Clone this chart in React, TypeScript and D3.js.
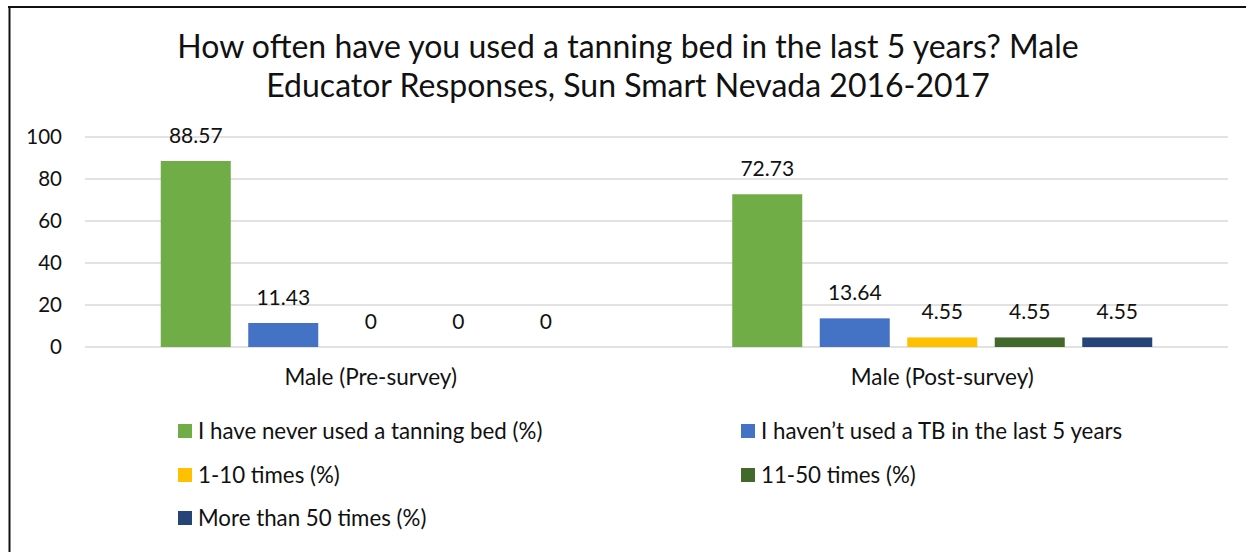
import React from "react";
import * as d3 from "d3";

const titleLines = [
  "How often have you used a tanning bed in the last 5 years? Male",
  "Educator Responses, Sun Smart Nevada 2016-2017",
];
const categories = ["Male (Pre-survey)", "Male (Post-survey)"];
const seriesNames = [
  "I have never used a tanning bed (%)",
  "I haven\u2019t used a TB in the last 5 years",
  "1-10 times (%)",
  "11-50 times (%)",
  "More than 50 times (%)",
];
const seriesColors = ["#70AD47", "#4472C4", "#FFC000", "#43682B", "#264478"];
const preValues = [88.57, 11.43, 0, 0, 0];
const postValues = [72.73, 13.64, 4.55, 4.55, 4.55];
const valueLabels = [
  ["88.57", "11.43", "0", "0", "0"],
  ["72.73", "13.64", "4.55", "4.55", "4.55"],
];
const yTicks = [0, 20, 40, 60, 80, 100];

const W = 1246;
const H = 552;
const FONT = "Lato, 'Open Sans', sans-serif";

export default function App() {
  const plotLeft = 85;
  const plotRight = 1228;
  const y = d3.scaleLinear().domain([0, 100]).range([347, 137]);
  const x0 = d3.scaleBand<string>().domain(categories).range([plotLeft, plotRight]).padding(0);
  const bw0 = x0.bandwidth();
  const clusterW = 420;
  const x1 = d3
    .scaleBand<string>()
    .domain(seriesNames)
    .range([(bw0 - clusterW) / 2, (bw0 + clusterW) / 2])
    .paddingInner(0.2)
    .paddingOuter(0);
  const values = [preValues, postValues];

  const legendPos = [
    [178, 431],
    [741, 431],
    [178, 475],
    [741, 475],
    [178, 518],
  ];

  return (
    <svg
      width={W}
      height={H}
      style={{ position: "absolute", left: 0, top: 0, background: "#fff" }}
      fontFamily={FONT}
    >
      <rect x={0} y={0} width={W} height={H} fill="#fff" />
      <line x1={8} x2={W} y1={7} y2={7} stroke="#111" strokeWidth={2} />
      <line x1={9.5} x2={9.5} y1={6} y2={H} stroke="#111" strokeWidth={2} />

      {titleLines.map((t, i) => (
        <text key={i} x={628} y={58 + i * 39} textAnchor="middle" fontSize={32} fill="#111">
          {t}
        </text>
      ))}

      {yTicks.map((t) => (
        <g key={t}>
          <line x1={plotLeft} x2={plotRight} y1={y(t)} y2={y(t)} stroke="#d9d9d9" strokeWidth={1.5} />
          <text x={62} y={y(t)} dy="0.36em" textAnchor="end" fontSize={20.5} fill="#111">
            {t}
          </text>
        </g>
      ))}

      {categories.map((c, ci) => (
        <g key={c} transform={`translate(${x0(c)},0)`}>
          {seriesNames.map((s, si) => {
            const v = values[ci][si];
            const bx = x1(s)!;
            return (
              <g key={s}>
                {v > 0 && (
                  <rect x={bx} y={y(v)} width={x1.bandwidth()} height={y(0) - y(v)} fill={seriesColors[si]} />
                )}
                <text
                  x={bx + x1.bandwidth() / 2}
                  y={y(v) - 18}
                  textAnchor="middle"
                  fontSize={21}
                  fill="#111"
                >
                  {valueLabels[ci][si]}
                </text>
              </g>
            );
          })}
          <text x={bw0 / 2} y={385} textAnchor="middle" fontSize={22.5} fill="#111">
            {c}
          </text>
        </g>
      ))}

      {seriesNames.map((s, i) => (
        <g key={s} transform={`translate(${legendPos[i][0]},${legendPos[i][1]})`}>
          <rect x={0} y={-7} width={14} height={14} fill={seriesColors[i]} />
          <text x={20} y={0} dy="0.36em" fontSize={22.3} fill="#111">
            {s}
          </text>
        </g>
      ))}
    </svg>
  );
}
